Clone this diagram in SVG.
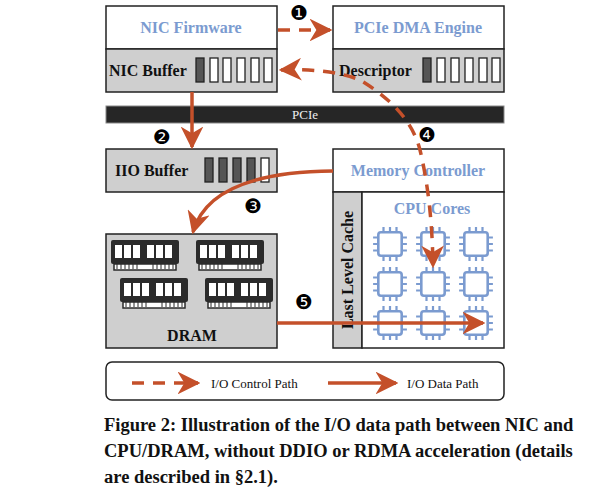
<svg xmlns="http://www.w3.org/2000/svg" width="606" height="501" viewBox="0 0 606 501">
<style>
.box{fill:#fff;stroke:#222;stroke-width:1.5}
.gray{fill:#cfcfcf;stroke:#222;stroke-width:1.5}
.blue{font-family:"Liberation Serif",serif;font-weight:bold;font-size:16px;fill:#7b9bd0}
.blk{font-family:"Liberation Serif",serif;font-weight:bold;font-size:16px;fill:#111}
.cell{fill:#fff;stroke:#222;stroke-width:1.3}
.cd{fill:#555;stroke:#222;stroke-width:1.3}
.num{font-family:"DejaVu Sans",sans-serif;font-size:20px;fill:#000}
.ds{fill:none;stroke:#c4502a;stroke-width:3.5;stroke-dasharray:12,9}
.sl{fill:none;stroke:#c4502a;stroke-width:3.5}
.cap{font-family:"Liberation Serif",serif;font-weight:bold;font-size:18.5px;fill:#111}
.lg{font-family:"Liberation Serif",serif;font-size:13px;fill:#111}
</style>
<defs>
<marker id="ah" viewBox="0 0 10 10" refX="9" refY="5" markerWidth="6.5" markerHeight="6.5" markerUnits="strokeWidth" orient="auto-start-reverse"><path d="M0,0 L10,5 L0,10 L3,5 Z" fill="#c4502a"/></marker>
<g id="chip"><g transform="scale(1.3)"><rect x="-9" y="-9" width="18" height="18" rx="2" fill="none" stroke="#7b9bd0" stroke-width="2"/><path d="M-5,-9v-4M0,-9v-4M5,-9v-4M-5,9v4M0,9v4M5,9v4M-9,-5h-4M-9,0h-4M-9,5h-4M9,-5h4M9,0h4M9,5h4" stroke="#7b9bd0" stroke-width="1.7"/></g></g>
<g id="ram"><rect x="0" y="0" width="68" height="24" rx="2" fill="#2b2b2b"/><rect x="4" y="5" width="7" height="13" fill="#fff"/><rect x="13" y="5" width="7" height="13" fill="#fff"/><rect x="22" y="5" width="7" height="13" fill="#fff"/><rect x="36" y="5" width="7" height="13" fill="#fff"/><rect x="45" y="5" width="7" height="13" fill="#fff"/><rect x="54" y="5" width="7" height="13" fill="#fff"/><rect x="3" y="24" width="62" height="6" fill="#fff" stroke="#2b2b2b" stroke-width="1.5"/><path d="M6,24v5M10,24v5M14,24v5M18,24v5M22,24v5M26,24v5M42,24v5M46,24v5M50,24v5M54,24v5M58,24v5M62,24v5" stroke="#2b2b2b" stroke-width="1"/></g>
</defs>
<g id="nic-firmware"><rect class="box" x="106" y="6" width="171" height="43"/><text class="blue" x="191" y="33" text-anchor="middle">NIC Firmware</text></g>
<g id="nic-buffer"><rect class="gray" x="106" y="49" width="171" height="43"/><text class="blk" x="109" y="76">NIC Buffer</text>
<rect class="cd" x="196" y="58" width="8" height="24"/><rect class="cell" x="210" y="58" width="8" height="24"/><rect class="cell" x="223" y="58" width="8" height="24"/><rect class="cell" x="237" y="58" width="8" height="24"/><rect class="cell" x="251" y="58" width="8" height="24"/><rect class="cell" x="264" y="58" width="8" height="24"/></g>
<g id="dma-engine"><rect class="box" x="333" y="6" width="171" height="43"/><text class="blue" x="418" y="33" text-anchor="middle">PCIe DMA Engine</text></g>
<g id="descriptor"><rect class="gray" x="333" y="49" width="171" height="43"/><text class="blk" x="339" y="76">Descriptor</text>
<rect class="cd" x="423" y="58" width="8" height="24"/><rect class="cell" x="437" y="58" width="8" height="24"/><rect class="cell" x="451" y="58" width="8" height="24"/><rect class="cell" x="465" y="58" width="8" height="24"/><rect class="cell" x="479" y="58" width="8" height="24"/><rect class="cell" x="492" y="58" width="8" height="24"/></g>
<g id="pcie"><rect x="106" y="106" width="398" height="17" fill="#262626" stroke="#888" stroke-width="1"/><text x="305" y="119" text-anchor="middle" font-family="Liberation Serif,serif" font-size="13" fill="#eee">PCIe</text></g>
<g id="iio-buffer"><rect class="gray" x="106" y="149" width="171" height="43"/><text class="blk" x="115" y="176">IIO Buffer</text>
<rect class="cd" x="205" y="158" width="8" height="24"/><rect class="cd" x="219" y="158" width="8" height="24"/><rect class="cd" x="233" y="158" width="8" height="24"/><rect class="cd" x="247" y="158" width="8" height="24"/><rect class="cell" x="261" y="158" width="8" height="24"/></g>
<g id="memory-controller"><rect class="box" x="333" y="149" width="171" height="43"/><text class="blue" x="418" y="176" text-anchor="middle">Memory Controller</text></g>
<g id="llc"><rect class="gray" x="333" y="192" width="29" height="156"/><text class="blk" transform="translate(353,270) rotate(-90)" text-anchor="middle">Last Level Cache</text></g>
<g id="cpu-cores"><rect class="box" x="362" y="192" width="142" height="156"/><text class="blue" x="432" y="214" text-anchor="middle">CPU Cores</text>
<use href="#chip" x="390" y="244"/><use href="#chip" x="433" y="244"/><use href="#chip" x="476" y="244"/>
<use href="#chip" x="390" y="284"/><use href="#chip" x="433" y="284"/><use href="#chip" x="476" y="284"/>
<use href="#chip" x="390" y="323"/><use href="#chip" x="433" y="323"/><use href="#chip" x="476" y="323"/></g>
<g id="dram"><rect class="gray" x="106" y="234" width="171" height="114"/>
<use href="#ram" x="111" y="240"/><use href="#ram" x="196" y="240"/><use href="#ram" x="120" y="278"/><use href="#ram" x="205" y="278"/>
<text class="blk" x="192" y="341" text-anchor="middle" font-size="17">DRAM</text></g>
<g id="connectors">
<path class="ds" d="M278,30 L330,30" marker-end="url(#ah)"/>
<path class="ds" d="M281,70 Q330,68 360,80 Q410,110 420,150 Q432,200 433,266" marker-start="url(#ah)" marker-end="url(#ah)"/>
<path class="sl" d="M192,92 L192,147" marker-end="url(#ah)"/>
<path class="sl" d="M333,171 Q210,172 193,232" marker-end="url(#ah)"/>
<path class="sl" d="M277,323 L483,323" marker-end="url(#ah)"/>
<text class="num" x="290" y="20">❶</text>
<text class="num" x="153" y="144">❷</text>
<text class="num" x="244" y="213">❸</text>
<text class="num" x="418" y="142">❹</text>
<text class="num" x="295" y="309">❺</text>
</g>
<g id="legend"><rect x="106" y="362" width="398" height="38" rx="6" fill="#fff" stroke="#222" stroke-width="1.5"/>
<path class="ds" d="M132,383 L198,383" marker-end="url(#ah)"/><text class="lg" x="211" y="388">I/O Control Path</text>
<path class="sl" d="M328,383 L396,383" marker-end="url(#ah)"/><text class="lg" x="407" y="388">I/O Data Path</text></g>
<text class="cap" x="104" y="431">Figure 2: Illustration of the I/O data path between NIC and</text>
<text class="cap" x="104" y="457">CPU/DRAM, without DDIO or RDMA acceleration (details</text>
<text class="cap" x="104" y="483">are described in §2.1).</text>
</svg>
